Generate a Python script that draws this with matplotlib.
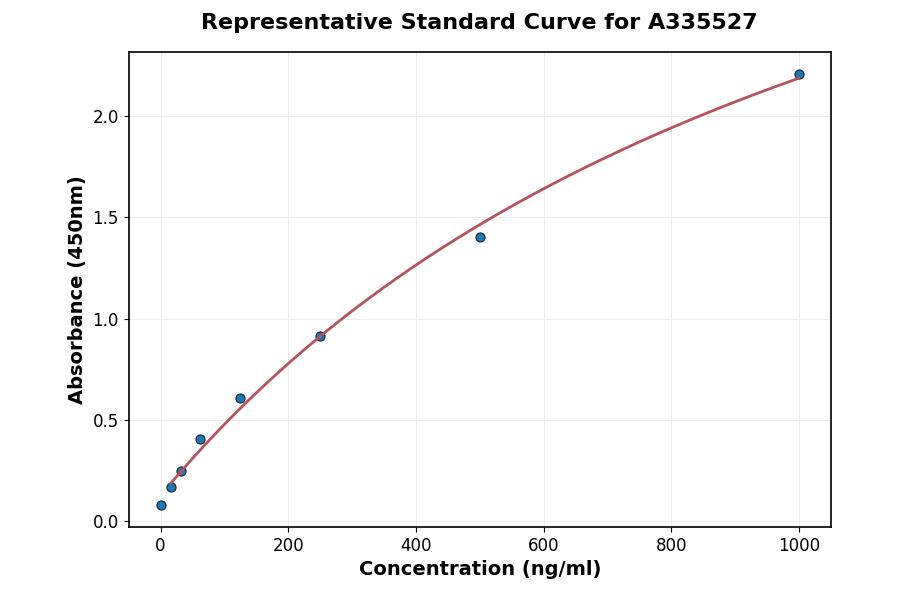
import numpy as np
import matplotlib
matplotlib.use('Agg')
import matplotlib.pyplot as plt

# standard concentrations (ng/ml) and measured OD450
conc = [0, 15.6, 31.25, 62.5, 125, 250, 500, 1000]
absorbance = [0.079, 0.167, 0.246, 0.404, 0.606, 0.916, 1.404, 2.207]

title = 'Representative Standard Curve for A335527'
x_label = 'Concentration (ng/ml)'
y_label = 'Absorbance (450nm)'


def four_pl(x, p):
    a, b, c, d = p
    return d + (a - d) / (1.0 + (np.abs(x) / c) ** b)


def fit_curve(x, y, p0, fixed_b=1.0, n_iter=800):
    """Small Levenberg-Marquardt fit of the 4PL model with the slope held fixed."""
    p = np.array(p0, dtype=float)
    p[1] = fixed_b
    free = [0, 2, 3]
    lam = 1e-2
    cost = np.sum((y - four_pl(x, p)) ** 2)
    for _ in range(n_iter):
        r = y - four_pl(x, p)
        J = np.zeros((len(x), len(free)))
        for j, k in enumerate(free):
            dp = np.zeros_like(p)
            dp[k] = 1e-6 * max(abs(p[k]), 1e-3)
            J[:, j] = (four_pl(x, p + dp) - four_pl(x, p)) / dp[k]
        A = J.T @ J
        step = np.linalg.solve(A + lam * np.diag(np.diag(A)), J.T @ r)
        p_new = p.copy()
        p_new[free] += step
        if p_new[2] <= 0:
            lam *= 10
            continue
        new_cost = np.sum((y - four_pl(x, p_new)) ** 2)
        if new_cost < cost:
            p, cost = p_new, new_cost
            lam /= 3
        else:
            lam *= 5
    return p


x = np.array(conc, dtype=float)
y = np.array(absorbance, dtype=float)
params = fit_curve(x, y, [0.05, 1.0, 1000.0, 5.0])

x_fit = np.linspace(x[x > 0].min(), x.max(), 300)
y_fit = four_pl(x_fit, params)

fig, ax = plt.subplots(figsize=(9, 5.94), dpi=100)

ax.scatter(conc, absorbance, s=42, color='#1f77b4', edgecolor='#1a2a3a',
           linewidth=0.9, zorder=3)
ax.plot(x_fit, y_fit, color='#b5525f', linewidth=2, zorder=4)

ax.set_title(title, fontsize=16, fontweight='bold', pad=17)
ax.set_xlabel(x_label, fontsize=14, fontweight='bold')
ax.set_ylabel(y_label, fontsize=14, fontweight='bold')
ax.tick_params(labelsize=12)
ax.grid(True, color='#ececec', linewidth=0.7)
ax.set_axisbelow(True)
for spine in ax.spines.values():
    spine.set_linewidth(1.2)

fig.subplots_adjust(left=0.143, right=0.923, top=0.912, bottom=0.113)
fig.savefig('out.png', dpi=100, facecolor='white')
